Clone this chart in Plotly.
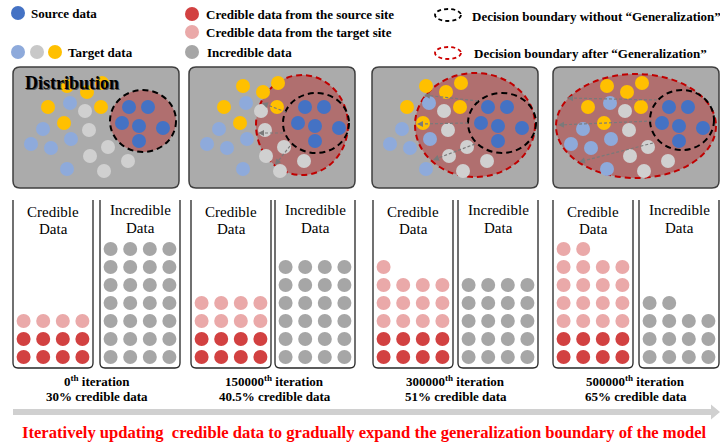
import plotly.graph_objects as go

# ---------------- data ----------------
iteration_labels = ["0", "150000", "300000", "500000"]
credible_pct = ["30%", "40.5%", "51%", "65%"]
credible_source_counts = [8, 8, 8, 8]
credible_target_counts = [4, 8, 13, 18]
incredible_counts = [28, 24, 20, 14]

# point layout of the first distribution panel (pixel space)
source_x = [129, 148, 122, 139, 163, 139]
source_y = [107, 107, 123, 126, 128, 141]
target_yellow_x = [67, 87, 102, 48, 101, 64]
target_yellow_y = [86, 92, 83, 107, 107, 123]
target_blue_x = [70, 43, 71, 31, 51, 67]
target_blue_y = [103, 129, 139, 144, 148, 169]
target_gray_x = [85, 89, 108, 90, 128, 104]
target_gray_y = [111, 130, 147, 156, 161, 171]

# decision boundaries per panel: (cx, cy, rx, ry)
black_bounds = [(143, 121, 33, 31), (316, 123, 33, 30), (502, 123, 34, 30), (682, 120, 32, 30)]
red_bounds = [None, (302, 125, 46, 50), (475, 125, 60, 52), (636, 126, 80, 52)]
# generalization arrows per panel: (x0, y0, x1, y1)
gen_arrows = [
    [],
    [(286, 112, 262, 103), (283, 133, 258, 133), (290, 146, 275, 165)],
    [(478, 101, 424, 95), (468, 123, 417, 124), (475, 144, 433, 160)],
    [(657, 100, 567, 98), (652, 121, 558, 125), (653, 143, 579, 162)],
]

# ---------------- layout constants ----------------
W, H = 720, 443
SERIF = "Liberation Serif, Times New Roman, serif"
C_SRC = "#4472c4"
C_LBLUE = "#8eaadb"
C_LGRAY = "#d0d0d0"
C_YEL = "#ffc000"
C_RED = "#d24141"
C_PINK = "#eaa9a9"
C_GRAY = "#a6a6a6"
C_PANEL = "#ababab"
C_FILL = "#b06f6f"
C_ARROW = "#7a7a7a"

panel_shift = [0, 176, 359, 540]
panel_x0, panel_x1, panel_y0, panel_y1 = 13, 179, 67, 188
cred_left = [13, 191, 373, 553]
incr_left = [100, 275, 458, 639]
bin_w = 80
bin_top, bin_bot = 200, 368
col_sp = 19.6
row_base, row_sp = 357, 18
label_cx = [96.5, 274.5, 455.5, 635.5]

fig = go.Figure()
shapes = []
ann = []


def rrect(x0, y0, x1, y1, r):
    return (f"M{x0+r},{y0} L{x1-r},{y0} Q{x1},{y0} {x1},{y0+r} L{x1},{y1-r} "
            f"Q{x1},{y1} {x1-r},{y1} L{x0+r},{y1} Q{x0},{y1} {x0},{y1-r} "
            f"L{x0},{y0+r} Q{x0},{y0} {x0+r},{y0} Z")


def open_bin(x0, x1, y0, y1, r):
    return (f"M{x0},{y0} L{x0},{y1-r} Q{x0},{y1} {x0+r},{y1} "
            f"L{x1-r},{y1} Q{x1},{y1} {x1},{y1-r} L{x1},{y0}")


def ell(c, **kw):
    cx, cy, rx, ry = c
    return dict(type="circle", xref="x", yref="y", x0=cx - rx, x1=cx + rx,
                y0=cy - ry, y1=cy + ry, **kw)


def text(x, y, s, size=13, color="black", bold=True, anchor="left"):
    ann.append(dict(x=x, y=y, xref="x", yref="y", text=(f"<b>{s}</b>" if bold else s),
                    showarrow=False, xanchor=anchor, yanchor="middle",
                    font=dict(family=SERIF, size=size, color=color)))


def dots(xs, ys, color, size=14):
    fig.add_trace(go.Scatter(x=xs, y=ys, mode="markers", hoverinfo="skip",
                             marker=dict(size=size, color=color, line=dict(width=0))))


# ---------------- legend ----------------
dots([18], [13], C_SRC)
text(29, 13, "Source data")
dots([18, 37, 55], [52, 52, 52], [C_LBLUE, "#c8c8c8", C_YEL])
text(66, 52, "Target data")
dots([192, 192, 192], [14, 32, 52], [C_RED, C_PINK, C_GRAY])
text(204, 14, "Credible data from the source site")
text(204, 32, "Credible data from the target site")
text(205, 52, "Incredible data")
shapes.append(ell((448, 15, 13, 6), line=dict(color="black", width=1.8, dash="4px,3px")))
shapes.append(ell((448, 53, 13, 6), line=dict(color="#cc0000", width=1.8, dash="4px,3px")))
text(470, 16, "Decision boundary without “Generalization”", size=13)
text(472, 53, "Decision boundary after “Generalization”", size=13)

# ---------------- distribution panels ----------------
for k, dx in enumerate(panel_shift):
    shapes.append(dict(type="path", xref="x", yref="y", layer="below",
                       path=rrect(panel_x0 + dx, panel_y0, panel_x1 + dx, panel_y1, 7),
                       fillcolor=C_PANEL, line=dict(color="#3f3f3f", width=1.5)))
    if red_bounds[k] is not None:
        shapes.append(ell(red_bounds[k], layer="below", fillcolor=C_FILL,
                          line=dict(color="#c00000", width=2, dash="6px,4px")))
        shapes.append(ell(black_bounds[k], layer="below",
                          line=dict(color="black", width=2, dash="6px,4px")))
    else:
        shapes.append(ell(black_bounds[k], layer="below", fillcolor=C_FILL,
                          line=dict(color="black", width=2, dash="6px,4px")))
    dots([v + dx for v in target_gray_x], target_gray_y, C_LGRAY)
    dots([v + dx for v in target_blue_x], target_blue_y, C_LBLUE)
    dots([v + dx for v in target_yellow_x], target_yellow_y, C_YEL)
    dots([v + dx for v in source_x], source_y, C_SRC)
    for (x0, y0, x1, y1) in gen_arrows[k]:
        L = ((x1 - x0) ** 2 + (y1 - y0) ** 2) ** 0.5
        ux, uy = (x1 - x0) / L, (y1 - y0) / L
        bx, by = x1 - ux * 6, y1 - uy * 6
        fig.add_trace(go.Scatter(x=[x0, bx], y=[y0, by], mode="lines", hoverinfo="skip",
                                 line=dict(color=C_ARROW, width=1.2, dash="3px,2px")))
        px, py = -uy * 3, ux * 3
        shapes.append(dict(type="path", xref="x", yref="y",
                           path=f"M{x1},{y1} L{bx+px},{by+py} L{bx-px},{by-py} Z",
                           fillcolor=C_ARROW, line=dict(width=0)))

# "Distribution" title with shadow
ann.append(dict(x=24, y=84, xref="x", yref="y", text="<b>Distribution</b>", showarrow=False,
                xanchor="left", yanchor="middle",
                font=dict(family=SERIF, size=18, color="#555555")))
ann.append(dict(x=23, y=83, xref="x", yref="y", text="<b>Distribution</b>", showarrow=False,
                xanchor="left", yanchor="middle",
                font=dict(family=SERIF, size=18, color="black")))


# ---------------- bins ----------------
def bin_dots(left, colors):
    cx = left + bin_w / 2
    xs, ys = [], []
    for i in range(len(colors)):
        r, c = divmod(i, 4)
        xs.append(cx + (c - 1.5) * col_sp)
        ys.append(row_base - r * row_sp)
    if xs:
        dots(xs, ys, colors)


for k in range(4):
    for left in (cred_left[k], incr_left[k]):
        shapes.append(dict(type="path", xref="x", yref="y",
                           path=open_bin(left, left + bin_w, bin_top, bin_bot, 5),
                           line=dict(color="#262626", width=1.3)))
    cc = cred_left[k] + bin_w / 2
    ic = incr_left[k] + bin_w / 2
    text(cc, 212, "Credible", size=15, bold=False, anchor="center")
    text(cc, 229, "Data", size=15, bold=False, anchor="center")
    text(ic, 210, "Incredible", size=15, bold=False, anchor="center")
    text(ic, 228, "Data", size=15, bold=False, anchor="center")
    bin_dots(cred_left[k], [C_RED] * credible_source_counts[k] + [C_PINK] * credible_target_counts[k])
    bin_dots(incr_left[k], [C_GRAY] * incredible_counts[k])
    text(label_cx[k], 381, f"{iteration_labels[k]}<sup>th</sup> iteration", anchor="center")
    text(label_cx[k], 396, f"{credible_pct[k]} credible data", anchor="center")

# ---------------- timeline arrow ----------------
shapes.append(dict(type="path", xref="x", yref="y",
                   path="M13,409 L711,409 L711,404.5 L720,412 L711,419.5 L711,415 L13,415 Z",
                   fillcolor="#d0d0d0", line=dict(width=0)))
text(364, 432, "Iteratively updating  credible data to gradually expand the generalization boundary of the model",
     size=16.6, color="#ff0000", anchor="center")

fig.update_layout(
    width=W, height=H, autosize=False,
    margin=dict(l=0, r=0, t=0, b=0),
    paper_bgcolor="white", plot_bgcolor="white",
    showlegend=False,
    xaxis=dict(range=[0, W], visible=False, fixedrange=True),
    yaxis=dict(range=[H, 0], visible=False, fixedrange=True),
    shapes=shapes, annotations=ann,
)
fig.write_html("out.html", config={"displayModeBar": False},
               post_script="document.body.style.margin='0px';")
